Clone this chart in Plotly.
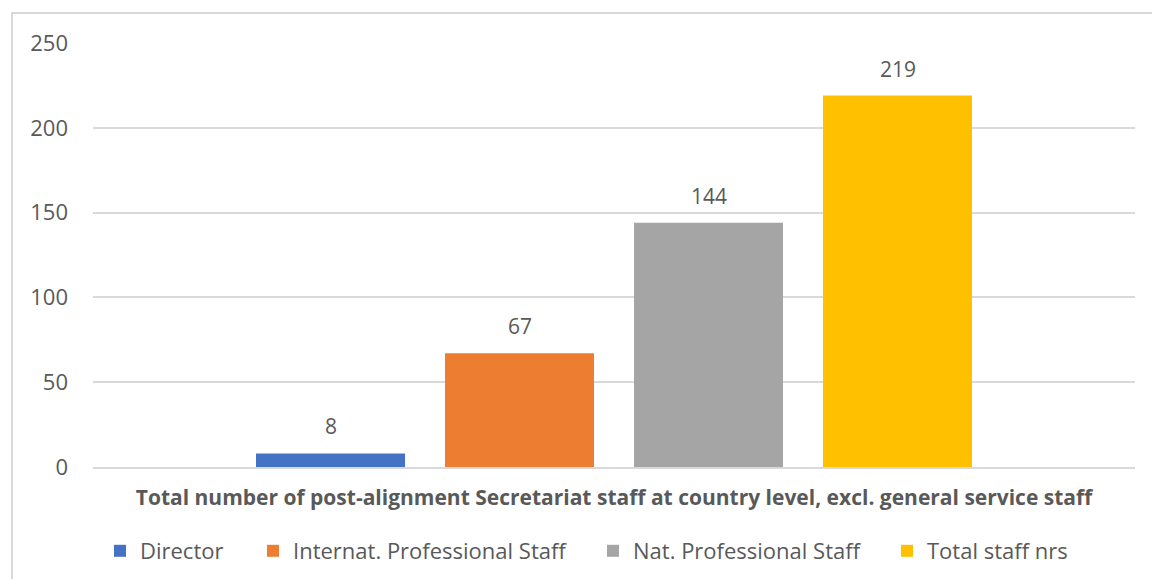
import plotly.graph_objects as go

# Post-alignment Secretariat staff at country level
category = ["Total number of post-alignment Secretariat staff at country level, excl. general service staff"]
series_names = ["Director", "Internat. Professional Staff", "Nat. Professional Staff", "Total staff nrs"]
series_values = [8, 67, 144, 219]
series_colors = ["#4472C4", "#ED7D31", "#A5A5A5", "#FFC000"]
y_ticks = [0, 50, 100, 150, 200, 250]

TEXT = "#595959"
GRID = "#D9D9D9"
FONT = "Open Sans"

W, H = 1152, 579
M_L, M_R, M_T, M_B = 93, 17, 43, 112
PW, PH = W - M_L - M_R, H - M_T - M_B


def px_x(p):
    return (p - M_L) / PW


def px_y(p):
    return (H - M_B - p) / PH


fig = go.Figure()
legend_ids = ["legend", "legend2", "legend3", "legend4"]
legend_x_px = [100, 253, 593, 887]

for name, val, col, lid in zip(series_names, series_values, series_colors, legend_ids):
    fig.add_trace(go.Bar(
        x=category, y=[val], name=name, marker_color=col,
        marker_line_width=0, legend=lid,
        hoverinfo="name+y",
    ))

# value labels above each bar
for i, val in enumerate(series_values):
    fig.add_annotation(
        x=category[0], y=val, text=str(val), showarrow=False,
        xref="x", yref="y", yanchor="bottom", yshift=11,
        xshift=(i - 1.5) * 189,
        font=dict(family=FONT, size=21, color=TEXT),
    )

layout_legends = {}
for lid, lx in zip(legend_ids, legend_x_px):
    layout_legends[lid] = dict(
        x=px_x(lx), y=px_y(551), xanchor="left", yanchor="middle",
        orientation="h", bgcolor="rgba(0,0,0,0)",
        font=dict(family=FONT, size=22, color=TEXT),
        itemclick=False, itemdoubleclick=False,
    )

fig.update_layout(
    width=W, height=H,
    margin=dict(l=M_L, r=M_R, t=M_T, b=M_B, autoexpand=False),
    paper_bgcolor="white", plot_bgcolor="white",
    barmode="group", bargap=0.2745, bargroupgap=0.2116,
    font=dict(family=FONT, color=TEXT),
    showlegend=True,
    **layout_legends,
    shapes=[dict(
        type="rect", xref="paper", yref="paper",
        x0=px_x(12), x1=px_x(1170), y0=px_y(600), y1=px_y(13),
        line=dict(color=GRID, width=2), fillcolor="rgba(0,0,0,0)", layer="below",
    )],
)

fig.update_xaxes(
    showgrid=False, showline=True, linecolor=GRID, linewidth=2,
    ticks="", ticklabelstandoff=11, automargin=False,
    tickfont=dict(family=FONT, size=21, color=TEXT, weight="bold"),
)
fig.update_yaxes(
    range=[0, 250], tickvals=y_ticks, showgrid=True, gridcolor=GRID, gridwidth=2,
    zeroline=False, showline=False, ticks="", ticklabelstandoff=24, automargin=False,
    tickfont=dict(family=FONT, size=22, color=TEXT),
)

fig.write_html("out.html")
